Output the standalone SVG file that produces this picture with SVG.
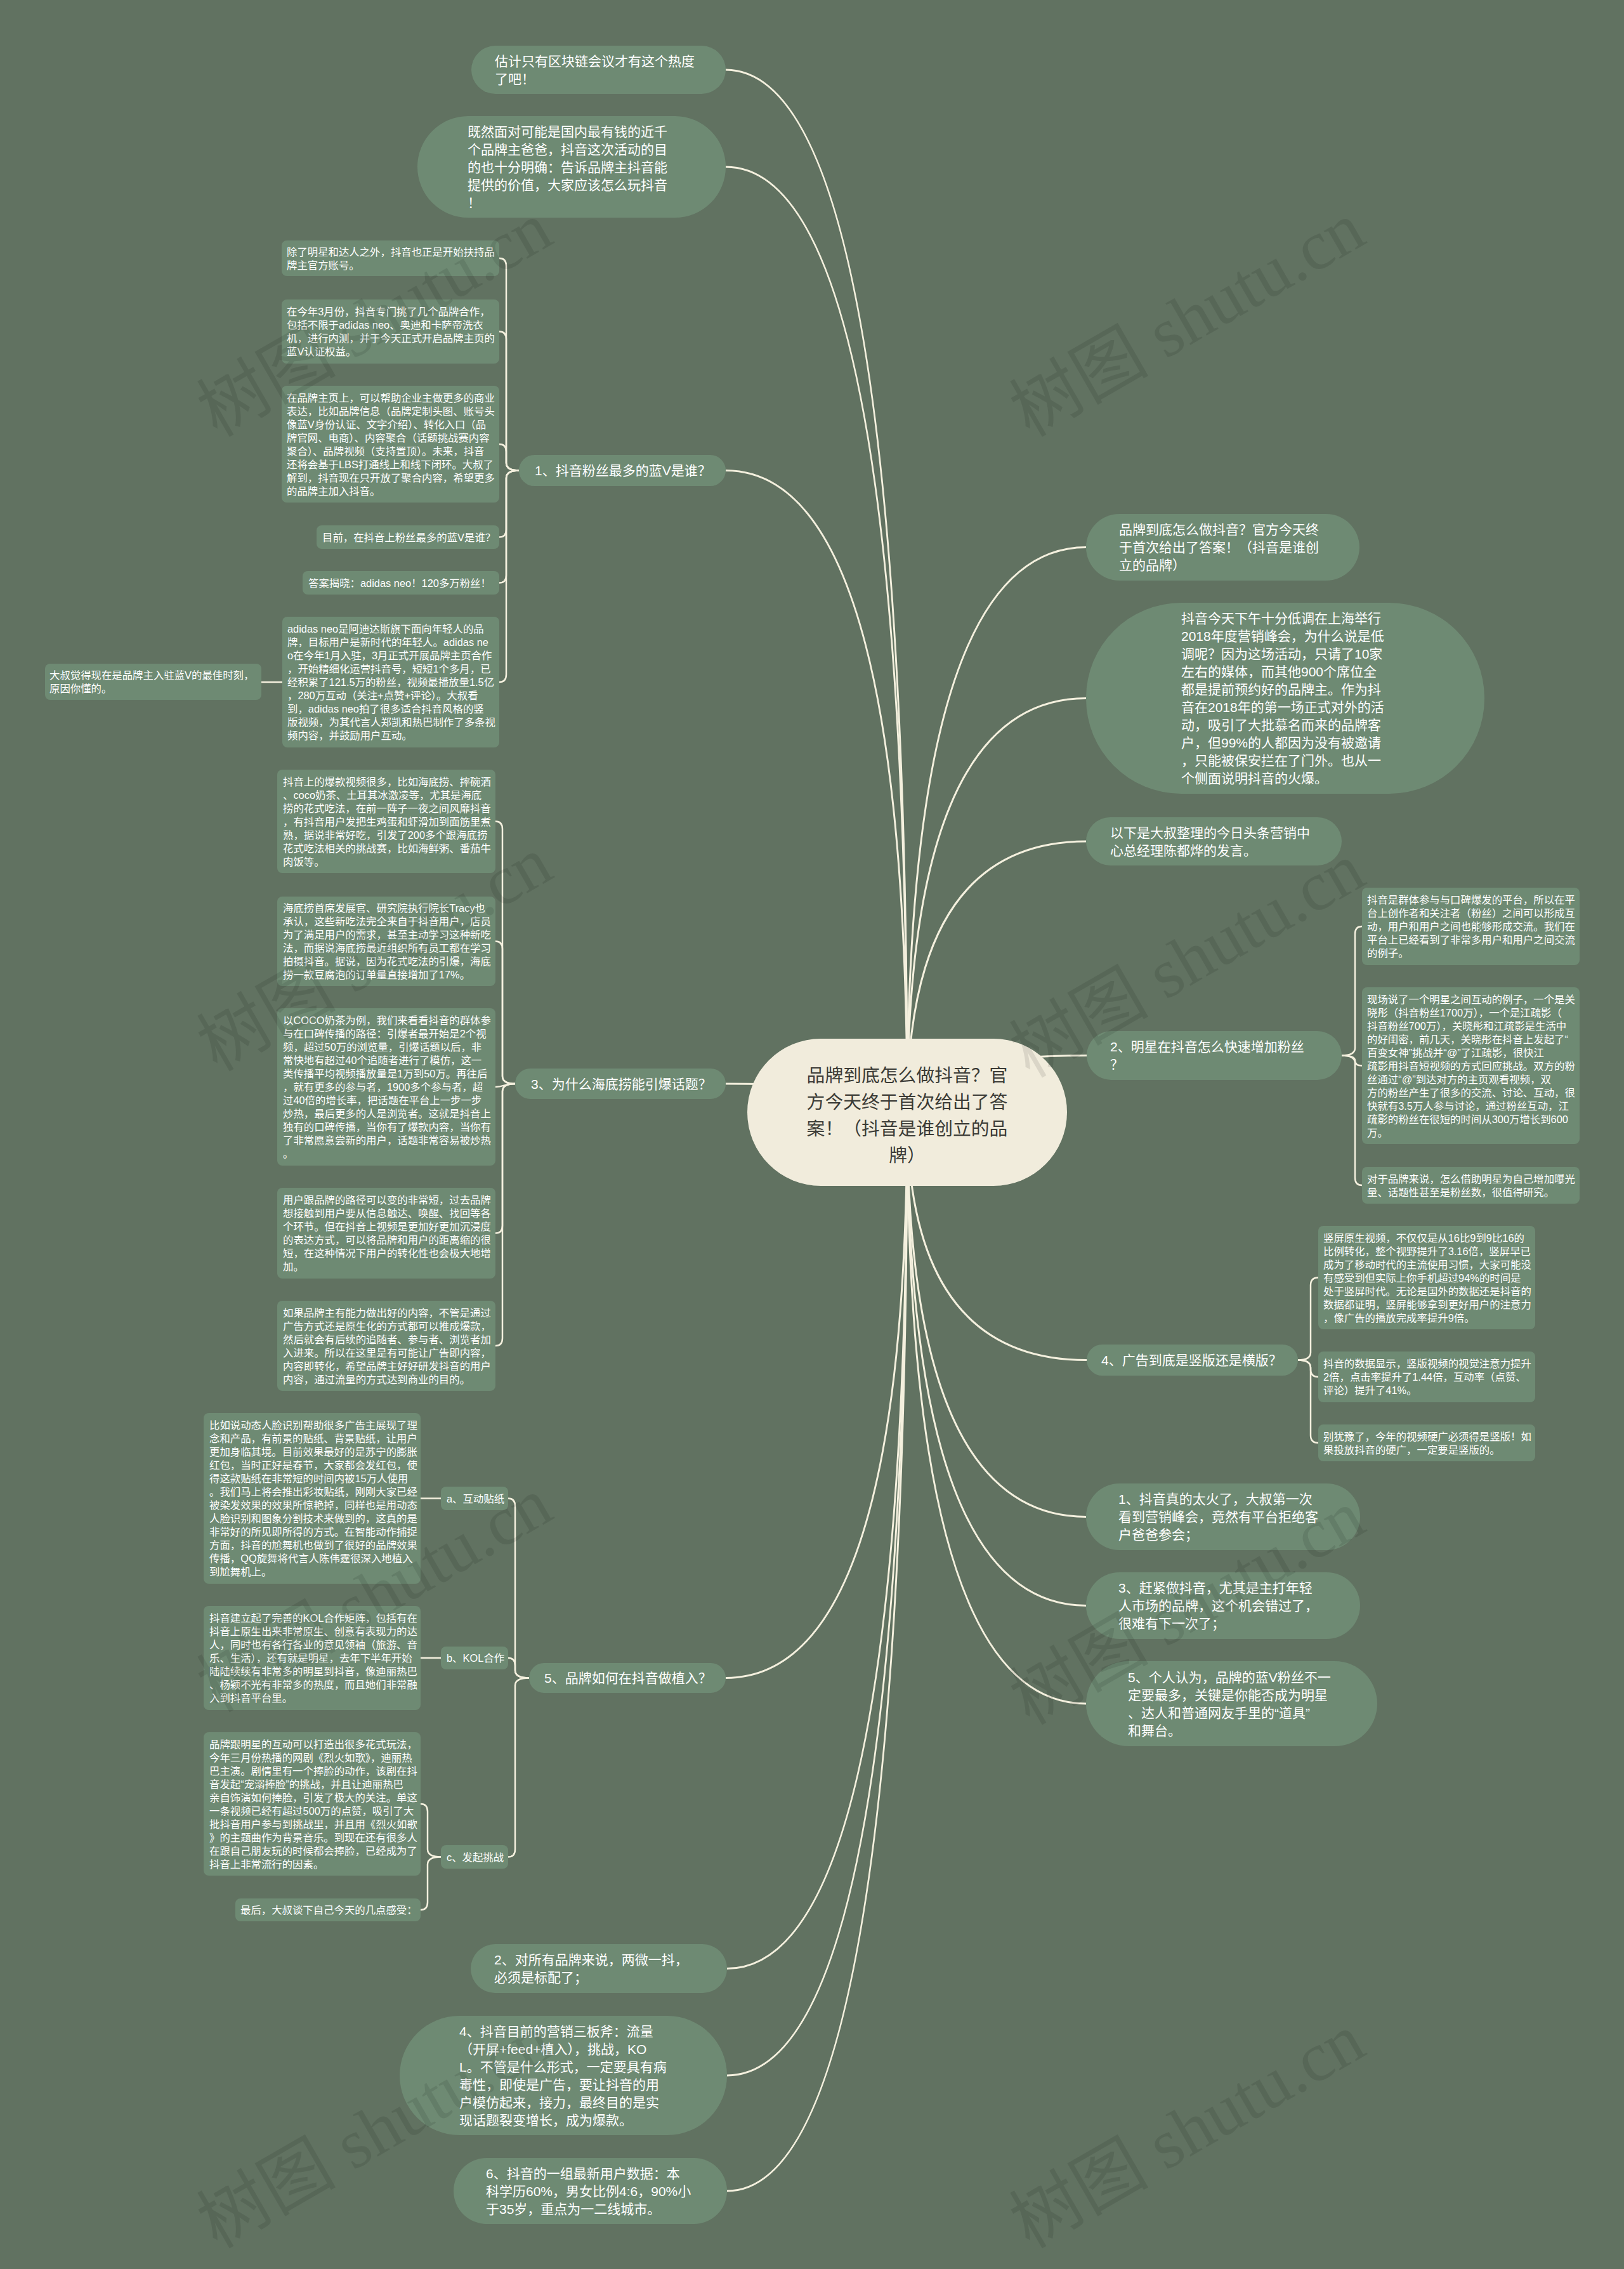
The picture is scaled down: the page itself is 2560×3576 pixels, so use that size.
<svg xmlns="http://www.w3.org/2000/svg" width="2560" height="3576" viewBox="0 0 2560 3576">
<style>
.bg{fill:#617261}
.nd rect{fill:#6e8a73}
.ctr rect{fill:#f1ecdc}
.t{font-family:"Liberation Sans","Noto Sans CJK SC",sans-serif;fill:#ffffff}
.s{font-size:16.4px}
.m{font-size:21px}
.c{font-size:28.8px;fill:#3b3b36;text-anchor:middle}
.ln{fill:none;stroke:#f4f0de;stroke-width:3}
.lb{fill:none;stroke:#f4f0de;stroke-width:2.5}
.wm{font-family:"Liberation Serif","Noto Sans CJK SC",serif;font-size:110px;fill:#000;opacity:0.09}
</style>
<rect class="bg" x="0" y="0" width="2560" height="3576"/>

<g id="connectors">
<path class="ln" d="M1430,1753 Q1430,110 1144,110"/>
<path class="ln" d="M1430,1753 Q1430,263 1144,263"/>
<path class="ln" d="M1430,1753 Q1430,741.5 1144,741.5"/>
<path class="ln" d="M1430,1753 Q1430,1708 1144,1708"/>
<path class="ln" d="M1430,1753 Q1430,2644.5 1144,2644.5"/>
<path class="ln" d="M1430,1753 Q1430,3102.5 1146,3102.5"/>
<path class="ln" d="M1430,1753 Q1430,3271 1146,3271"/>
<path class="ln" d="M1430,1753 Q1430,3453 1146,3453"/>
<path class="ln" d="M1430,1753 Q1430,862.5 1712,862.5"/>
<path class="ln" d="M1430,1753 Q1430,1100.5 1712,1100.5"/>
<path class="ln" d="M1430,1753 Q1430,1326 1712,1326"/>
<path class="ln" d="M1430,1753 Q1430,1663.5 1713,1663.5"/>
<path class="ln" d="M1430,1753 Q1430,2143.5 1713,2143.5"/>
<path class="ln" d="M1430,1753 Q1430,2390.5 1712,2390.5"/>
<path class="ln" d="M1430,1753 Q1430,2530.5 1712,2530.5"/>
<path class="ln" d="M1430,1753 Q1430,2685 1712,2685"/>

<path class="lb" d="M818,741.5 Q798,741.5 798,729.5 L798,419 Q798,407 787,407"/>
<path class="lb" d="M818,741.5 Q798,741.5 798,729.5 L798,534.5 Q798,522.5 787,522.5"/>
<path class="lb" d="M818,741.5 Q798,741.5 798,729.5 L798,712 Q798,700 787,700"/>
<path class="lb" d="M818,741.5 Q798,741.5 798,753.5 L798,834.5 Q798,846.5 787,846.5"/>
<path class="lb" d="M818,741.5 Q798,741.5 798,753.5 L798,906.5 Q798,918.5 787,918.5"/>
<path class="lb" d="M818,741.5 Q798,741.5 798,753.5 L798,1063 Q798,1075 787,1075"/>
<path class="lb" d="M445,1075 L412,1075"/>

<path class="lb" d="M812,1708 Q792,1708 792,1696 L792,1306.5 Q792,1294.5 781,1294.5"/>
<path class="lb" d="M812,1708 Q792,1708 792,1696 L792,1495.5 Q792,1483.5 781,1483.5"/>
<path class="lb" d="M812,1708 C795,1708 795,1713 781,1713"/>
<path class="lb" d="M812,1708 Q792,1708 792,1720 L792,1931.5 Q792,1943.5 781,1943.5"/>
<path class="lb" d="M812,1708 Q792,1708 792,1720 L792,2109 Q792,2121 781,2121"/>

<path class="lb" d="M834,2644.5 Q812,2644.5 812,2632.5 L812,2373.5 Q812,2361.5 801,2361.5"/>
<path class="lb" d="M834,2644.5 Q812,2644.5 812,2632.5 L812,2625 Q812,2613 801,2613"/>
<path class="lb" d="M834,2644.5 Q812,2644.5 812,2656.5 L812,2914.5 Q812,2926.5 801,2926.5"/>
<path class="lb" d="M695,2361.5 L663,2361.5"/>
<path class="lb" d="M695,2613 L663,2613"/>
<path class="lb" d="M695,2926.5 Q674,2926.5 674,2914.5 L674,2855 Q674,2843 663,2843"/>
<path class="lb" d="M695,2926.5 Q674,2926.5 674,2938.5 L674,2998 Q674,3010 663,3010"/>

<path class="lb" d="M2115,1663.5 Q2136,1663.5 2136,1651.5 L2136,1472 Q2136,1460 2147,1460"/>
<path class="lb" d="M2115,1663.5 Q2136,1663.5 2136,1671.5 Q2136,1679.5 2147,1679.5"/>
<path class="lb" d="M2115,1663.5 Q2136,1663.5 2136,1675.5 L2136,1856 Q2136,1868 2147,1868"/>

<path class="lb" d="M2046,2143.5 Q2066,2143.5 2066,2131.5 L2066,2025.5 Q2066,2013.5 2078,2013.5"/>
<path class="lb" d="M2046,2143.5 Q2066,2143.5 2066,2155.5 L2066,2158 Q2066,2170 2078,2170"/>
<path class="lb" d="M2046,2143.5 Q2066,2143.5 2066,2155.5 L2066,2262 Q2066,2274 2078,2274"/>
</g>

<g id="center" class="ctr">
<rect x="1178" y="1637" width="504" height="232" rx="116"/>
<text class="t c" x="1430" y="1705"><tspan x="1430">品牌到底怎么做抖音？官</tspan><tspan x="1430" dy="42">方今天终于首次给出了答</tspan><tspan x="1430" dy="42">案！（抖音是谁创立的品</tspan><tspan x="1430" dy="42">牌）</tspan></text>
</g>

<g id="n-top1" class="nd">
<rect x="743" y="72" width="401" height="76" rx="38"/>
<text class="t m" x="780" y="103.5"><tspan x="780">估计只有区块链会议才有这个热度</tspan><tspan x="780" dy="28">了吧！</tspan></text>
</g>
<g id="n-top2" class="nd">
<rect x="658" y="183" width="486" height="160" rx="80"/>
<text class="t m" x="737" y="214.5"><tspan x="737">既然面对可能是国内最有钱的近千</tspan><tspan x="737" dy="28">个品牌主爸爸，抖音这次活动的目</tspan><tspan x="737" dy="28">的也十分明确：告诉品牌主抖音能</tspan><tspan x="737" dy="28">提供的价值，大家应该怎么玩抖音</tspan><tspan x="737" dy="28">！</tspan></text>
</g>

<g id="n-b1" class="nd">
<rect x="818" y="717" width="326" height="49" rx="24.5"/>
<text class="t m" x="843" y="749">1、抖音粉丝最多的蓝V是谁？</text>
</g>
<g id="n-b1-1" class="nd">
<rect x="444" y="379" width="343" height="56" rx="8"/>
<text class="t s" x="452" y="402.5"><tspan x="452">除了明星和达人之外，抖音也正是开始扶持品</tspan><tspan x="452" dy="21">牌主官方账号。</tspan></text>
</g>
<g id="n-b1-2" class="nd">
<rect x="444" y="472" width="343" height="101" rx="8"/>
<text class="t s" x="452" y="497"><tspan x="452">在今年3月份，抖音专门挑了几个品牌合作，</tspan><tspan x="452" dy="21">包括不限于adidas neo、奥迪和卡萨帝洗衣</tspan><tspan x="452" dy="21">机，进行内测，并于今天正式开启品牌主页的</tspan><tspan x="452" dy="21">蓝V认证权益。</tspan></text>
</g>
<g id="n-b1-3" class="nd">
<rect x="444" y="608" width="343" height="184" rx="8"/>
<text class="t s" x="452" y="632.5"><tspan x="452">在品牌主页上，可以帮助企业主做更多的商业</tspan><tspan x="452" dy="21">表达，比如品牌信息（品牌定制头图、账号头</tspan><tspan x="452" dy="21">像蓝V身份认证、文字介绍）、转化入口（品</tspan><tspan x="452" dy="21">牌官网、电商）、内容聚合（话题挑战赛内容</tspan><tspan x="452" dy="21">聚合）、品牌视频（支持置顶）。未来，抖音</tspan><tspan x="452" dy="21">还将会基于LBS打通线上和线下闭环。大叔了</tspan><tspan x="452" dy="21">解到，抖音现在只开放了聚合内容，希望更多</tspan><tspan x="452" dy="21">的品牌主加入抖音。</tspan></text>
</g>
<g id="n-b1-4" class="nd">
<rect x="499" y="828" width="288" height="37" rx="8"/>
<text class="t s" x="508" y="852.5">目前，在抖音上粉丝最多的蓝V是谁？</text>
</g>
<g id="n-b1-5" class="nd">
<rect x="477" y="900" width="310" height="37" rx="8"/>
<text class="t s" x="486" y="924.5">答案揭晓：adidas neo！120多万粉丝！</text>
</g>
<g id="n-b1-6" class="nd">
<rect x="445" y="972" width="342" height="206" rx="8"/>
<text class="t s" x="453" y="997"><tspan x="453">adidas neo是阿迪达斯旗下面向年轻人的品</tspan><tspan x="453" dy="21">牌，目标用户是新时代的年轻人。adidas ne</tspan><tspan x="453" dy="21">o在今年1月入驻，3月正式开展品牌主页合作</tspan><tspan x="453" dy="21">，开始精细化运营抖音号，短短1个多月，已</tspan><tspan x="453" dy="21">经积累了121.5万的粉丝，视频最播放量1.5亿</tspan><tspan x="453" dy="21">，280万互动（关注+点赞+评论）。大叔看</tspan><tspan x="453" dy="21">到，adidas neo拍了很多适合抖音风格的竖</tspan><tspan x="453" dy="21">版视频，为其代言人郑凯和热巴制作了多条视</tspan><tspan x="453" dy="21">频内容，并鼓励用户互动。</tspan></text>
</g>
<g id="n-b1-6-1" class="nd">
<rect x="71" y="1046" width="341" height="57" rx="8"/>
<text class="t s" x="78" y="1070"><tspan x="78">大叔觉得现在是品牌主入驻蓝V的最佳时刻，</tspan><tspan x="78" dy="21">原因你懂的。</tspan></text>
</g>

<g id="n-b3" class="nd">
<rect x="812" y="1684" width="332" height="48" rx="24"/>
<text class="t m" x="837" y="1715.5">3、为什么海底捞能引爆话题？</text>
</g>
<g id="n-b3-1" class="nd">
<rect x="437" y="1213" width="344" height="163" rx="8"/>
<text class="t s" x="446" y="1237.5"><tspan x="446">抖音上的爆款视频很多，比如海底捞、摔碗酒</tspan><tspan x="446" dy="21">、coco奶茶、土耳其冰激凌等，尤其是海底</tspan><tspan x="446" dy="21">捞的花式吃法，在前一阵子一夜之间风靡抖音</tspan><tspan x="446" dy="21">，有抖音用户发把生鸡蛋和虾滑加到面筋里煮</tspan><tspan x="446" dy="21">熟，据说非常好吃，引发了200多个跟海底捞</tspan><tspan x="446" dy="21">花式吃法相关的挑战赛，比如海鲜粥、番茄牛</tspan><tspan x="446" dy="21">肉饭等。</tspan></text>
</g>
<g id="n-b3-2" class="nd">
<rect x="437" y="1413" width="344" height="141" rx="8"/>
<text class="t s" x="446" y="1437"><tspan x="446">海底捞首席发展官、研究院执行院长Tracy也</tspan><tspan x="446" dy="21">承认，这些新吃法完全来自于抖音用户，店员</tspan><tspan x="446" dy="21">为了满足用户的需求，甚至主动学习这种新吃</tspan><tspan x="446" dy="21">法，而据说海底捞最近组织所有员工都在学习</tspan><tspan x="446" dy="21">拍摄抖音。据说，因为花式吃法的引爆，海底</tspan><tspan x="446" dy="21">捞一款豆腐泡的订单量直接增加了17%。</tspan></text>
</g>
<g id="n-b3-3" class="nd">
<rect x="437" y="1589" width="344" height="248" rx="8"/>
<text class="t s" x="446" y="1614"><tspan x="446">以COCO奶茶为例，我们来看看抖音的群体参</tspan><tspan x="446" dy="21">与在口碑传播的路径：引爆者最开始是2个视</tspan><tspan x="446" dy="21">频，超过50万的浏览量，引爆话题以后，非</tspan><tspan x="446" dy="21">常快地有超过40个追随者进行了模仿，这一</tspan><tspan x="446" dy="21">类传播平均视频播放量是1万到50万。再往后</tspan><tspan x="446" dy="21">，就有更多的参与者，1900多个参与者，超</tspan><tspan x="446" dy="21">过40倍的增长率，把话题在平台上一步一步</tspan><tspan x="446" dy="21">炒热，最后更多的人是浏览者。这就是抖音上</tspan><tspan x="446" dy="21">独有的口碑传播，当你有了爆款内容，当你有</tspan><tspan x="446" dy="21">了非常愿意尝新的用户，话题非常容易被炒热</tspan><tspan x="446" dy="21">。</tspan></text>
</g>
<g id="n-b3-4" class="nd">
<rect x="437" y="1872" width="344" height="143" rx="8"/>
<text class="t s" x="446" y="1897"><tspan x="446">用户跟品牌的路径可以变的非常短，过去品牌</tspan><tspan x="446" dy="21">想接触到用户要从信息触达、唤醒、找回等各</tspan><tspan x="446" dy="21">个环节。但在抖音上视频是更加好更加沉浸度</tspan><tspan x="446" dy="21">的表达方式，可以将品牌和用户的距离缩的很</tspan><tspan x="446" dy="21">短，在这种情况下用户的转化性也会极大地增</tspan><tspan x="446" dy="21">加。</tspan></text>
</g>
<g id="n-b3-5" class="nd">
<rect x="437" y="2050" width="344" height="142" rx="8"/>
<text class="t s" x="446" y="2074.5"><tspan x="446">如果品牌主有能力做出好的内容，不管是通过</tspan><tspan x="446" dy="21">广告方式还是原生化的方式都可以推成爆款，</tspan><tspan x="446" dy="21">然后就会有后续的追随者、参与者、浏览者加</tspan><tspan x="446" dy="21">入进来。所以在这里是有可能让广告即内容，</tspan><tspan x="446" dy="21">内容即转化，希望品牌主好好研发抖音的用户</tspan><tspan x="446" dy="21">内容，通过流量的方式达到商业的目的。</tspan></text>
</g>

<g id="n-b5" class="nd">
<rect x="834" y="2621" width="310" height="47" rx="23.5"/>
<text class="t m" x="858" y="2652">5、品牌如何在抖音做植入？</text>
</g>
<g id="n-b5-a" class="nd">
<rect x="695" y="2343" width="106" height="37" rx="8"/>
<text class="t s" x="704" y="2367.5">a、互动贴纸</text>
</g>
<g id="n-b5-a-1" class="nd">
<rect x="321" y="2227" width="342" height="269" rx="8"/>
<text class="t s" x="330" y="2252"><tspan x="330">比如说动态人脸识别帮助很多广告主展现了理</tspan><tspan x="330" dy="21">念和产品，有前景的贴纸、背景贴纸，让用户</tspan><tspan x="330" dy="21">更加身临其境。目前效果最好的是苏宁的膨胀</tspan><tspan x="330" dy="21">红包，当时正好是春节，大家都会发红包，使</tspan><tspan x="330" dy="21">得这款贴纸在非常短的时间内被15万人使用</tspan><tspan x="330" dy="21">。我们马上将会推出彩妆贴纸，刚刚大家已经</tspan><tspan x="330" dy="21">被染发效果的效果所惊艳掉，同样也是用动态</tspan><tspan x="330" dy="21">人脸识别和图象分割技术来做到的，这真的是</tspan><tspan x="330" dy="21">非常好的所见即所得的方式。在智能动作捕捉</tspan><tspan x="330" dy="21">方面，抖音的尬舞机也做到了很好的品牌效果</tspan><tspan x="330" dy="21">传播，QQ旋舞将代言人陈伟霆很深入地植入</tspan><tspan x="330" dy="21">到尬舞机上。</tspan></text>
</g>
<g id="n-b5-b" class="nd">
<rect x="695" y="2595" width="106" height="36" rx="8"/>
<text class="t s" x="704" y="2619">b、KOL合作</text>
</g>
<g id="n-b5-b-1" class="nd">
<rect x="321" y="2531" width="342" height="164" rx="8"/>
<text class="t s" x="330" y="2556"><tspan x="330">抖音建立起了完善的KOL合作矩阵，包括有在</tspan><tspan x="330" dy="21">抖音上原生出来非常原生、创意有表现力的达</tspan><tspan x="330" dy="21">人，同时也有各行各业的意见领袖（旅游、音</tspan><tspan x="330" dy="21">乐、生活），还有就是明星，去年下半年开始</tspan><tspan x="330" dy="21">陆陆续续有非常多的明星到抖音，像迪丽热巴</tspan><tspan x="330" dy="21">、杨颖不光有非常多的热度，而且她们非常融</tspan><tspan x="330" dy="21">入到抖音平台里。</tspan></text>
</g>
<g id="n-b5-c" class="nd">
<rect x="695" y="2908" width="106" height="37" rx="8"/>
<text class="t s" x="704" y="2932.5">c、发起挑战</text>
</g>
<g id="n-b5-c-1" class="nd">
<rect x="321" y="2730" width="342" height="226" rx="8"/>
<text class="t s" x="330" y="2754.5"><tspan x="330">品牌跟明星的互动可以打造出很多花式玩法，</tspan><tspan x="330" dy="21">今年三月份热播的网剧《烈火如歌》，迪丽热</tspan><tspan x="330" dy="21">巴主演。剧情里有一个捧脸的动作，该剧在抖</tspan><tspan x="330" dy="21">音发起“宠溺捧脸”的挑战，并且让迪丽热巴</tspan><tspan x="330" dy="21">亲自饰演如何捧脸，引发了极大的关注。单这</tspan><tspan x="330" dy="21">一条视频已经有超过500万的点赞，吸引了大</tspan><tspan x="330" dy="21">批抖音用户参与到挑战里，并且用《烈火如歌</tspan><tspan x="330" dy="21">》的主题曲作为背景音乐。到现在还有很多人</tspan><tspan x="330" dy="21">在跟自己朋友玩的时候都会捧脸，已经成为了</tspan><tspan x="330" dy="21">抖音上非常流行的因素。</tspan></text>
</g>
<g id="n-b5-c-2" class="nd">
<rect x="371" y="2992" width="292" height="36" rx="8"/>
<text class="t s" x="379" y="3016">最后，大叔谈下自己今天的几点感受：</text>
</g>

<g id="n-bot2" class="nd">
<rect x="742" y="3064" width="404" height="77" rx="38.5"/>
<text class="t m" x="779" y="3096"><tspan x="779">2、对所有品牌来说，两微一抖，</tspan><tspan x="779" dy="28">必须是标配了；</tspan></text>
</g>
<g id="n-bot4" class="nd">
<rect x="630" y="3177" width="516" height="188" rx="94"/>
<text class="t m" x="724" y="3208.5"><tspan x="724">4、抖音目前的营销三板斧：流量</tspan><tspan x="724" dy="28">（开屏+feed+植入），挑战，KO</tspan><tspan x="724" dy="28">L。不管是什么形式，一定要具有病</tspan><tspan x="724" dy="28">毒性，即使是广告，要让抖音的用</tspan><tspan x="724" dy="28">户模仿起来，接力，最终目的是实</tspan><tspan x="724" dy="28">现话题裂变增长，成为爆款。</tspan></text>
</g>
<g id="n-bot6" class="nd">
<rect x="715" y="3401" width="431" height="104" rx="52"/>
<text class="t m" x="766" y="3432.5"><tspan x="766">6、抖音的一组最新用户数据：本</tspan><tspan x="766" dy="28">科学历60%，男女比例4:6，90%小</tspan><tspan x="766" dy="28">于35岁，重点为一二线城市。</tspan></text>
</g>

<g id="n-r1" class="nd">
<rect x="1712" y="810" width="431" height="105" rx="52.5"/>
<text class="t m" x="1764" y="842"><tspan x="1764">品牌到底怎么做抖音？官方今天终</tspan><tspan x="1764" dy="28">于首次给出了答案！（抖音是谁创</tspan><tspan x="1764" dy="28">立的品牌）</tspan></text>
</g>
<g id="n-r2" class="nd">
<rect x="1712" y="950" width="628" height="301" rx="150"/>
<text class="t m" x="1862" y="982"><tspan x="1862">抖音今天下午十分低调在上海举行</tspan><tspan x="1862" dy="28">2018年度营销峰会，为什么说是低</tspan><tspan x="1862" dy="28">调呢？因为这场活动，只请了10家</tspan><tspan x="1862" dy="28">左右的媒体，而其他900个席位全</tspan><tspan x="1862" dy="28">都是提前预约好的品牌主。作为抖</tspan><tspan x="1862" dy="28">音在2018年的第一场正式对外的活</tspan><tspan x="1862" dy="28">动，吸引了大批慕名而来的品牌客</tspan><tspan x="1862" dy="28">户，但99%的人都因为没有被邀请</tspan><tspan x="1862" dy="28">，只能被保安拦在了门外。也从一</tspan><tspan x="1862" dy="28">个侧面说明抖音的火爆。</tspan></text>
</g>
<g id="n-r3" class="nd">
<rect x="1712" y="1288" width="403" height="76" rx="38"/>
<text class="t m" x="1750" y="1319.5"><tspan x="1750">以下是大叔整理的今日头条营销中</tspan><tspan x="1750" dy="28">心总经理陈都烨的发言。</tspan></text>
</g>
<g id="n-r4" class="nd">
<rect x="1713" y="1625" width="402" height="77" rx="38.5"/>
<text class="t m" x="1750" y="1657"><tspan x="1750">2、明星在抖音怎么快速增加粉丝</tspan><tspan x="1750" dy="28">？</tspan></text>
</g>
<g id="n-r4-1" class="nd">
<rect x="2147" y="1399" width="343" height="122" rx="8"/>
<text class="t s" x="2155" y="1424"><tspan x="2155">抖音是群体参与与口碑爆发的平台，所以在平</tspan><tspan x="2155" dy="21">台上创作者和关注者（粉丝）之间可以形成互</tspan><tspan x="2155" dy="21">动，用户和用户之间也能够形成交流。我们在</tspan><tspan x="2155" dy="21">平台上已经看到了非常多用户和用户之间交流</tspan><tspan x="2155" dy="21">的例子。</tspan></text>
</g>
<g id="n-r4-2" class="nd">
<rect x="2147" y="1556" width="343" height="247" rx="8"/>
<text class="t s" x="2155" y="1580.5"><tspan x="2155">现场说了一个明星之间互动的例子，一个是关</tspan><tspan x="2155" dy="21">晓彤（抖音粉丝1700万），一个是江疏影（</tspan><tspan x="2155" dy="21">抖音粉丝700万），关晓彤和江疏影是生活中</tspan><tspan x="2155" dy="21">的好闺密，前几天，关晓彤在抖音上发起了“</tspan><tspan x="2155" dy="21">百变女神”挑战并“@”了江疏影，很快江</tspan><tspan x="2155" dy="21">疏影用抖音短视频的方式回应挑战。双方的粉</tspan><tspan x="2155" dy="21">丝通过“@”到达对方的主页观看视频，双</tspan><tspan x="2155" dy="21">方的粉丝产生了很多的交流、讨论、互动，很</tspan><tspan x="2155" dy="21">快就有3.5万人参与讨论，通过粉丝互动，江</tspan><tspan x="2155" dy="21">疏影的粉丝在很短的时间从300万增长到600</tspan><tspan x="2155" dy="21">万。</tspan></text>
</g>
<g id="n-r4-3" class="nd">
<rect x="2147" y="1839" width="343" height="58" rx="8"/>
<text class="t s" x="2155" y="1863.5"><tspan x="2155">对于品牌来说，怎么借助明星为自己增加曝光</tspan><tspan x="2155" dy="21">量、话题性甚至是粉丝数，很值得研究。</tspan></text>
</g>
<g id="n-r5" class="nd">
<rect x="1713" y="2119" width="333" height="49" rx="24.5"/>
<text class="t m" x="1736" y="2151">4、广告到底是竖版还是横版？</text>
</g>
<g id="n-r5-1" class="nd">
<rect x="2078" y="1932" width="342" height="163" rx="8"/>
<text class="t s" x="2086" y="1956.5"><tspan x="2086">竖屏原生视频，不仅仅是从16比9到9比16的</tspan><tspan x="2086" dy="21">比例转化，整个视野提升了3.16倍，竖屏早已</tspan><tspan x="2086" dy="21">成为了移动时代的主流使用习惯，大家可能没</tspan><tspan x="2086" dy="21">有感受到但实际上你手机超过94%的时间是</tspan><tspan x="2086" dy="21">处于竖屏时代。无论是国外的数据还是抖音的</tspan><tspan x="2086" dy="21">数据都证明，竖屏能够拿到更好用户的注意力</tspan><tspan x="2086" dy="21">，像广告的播放完成率提升9倍。</tspan></text>
</g>
<g id="n-r5-2" class="nd">
<rect x="2078" y="2130" width="342" height="80" rx="8"/>
<text class="t s" x="2086" y="2155"><tspan x="2086">抖音的数据显示，竖版视频的视觉注意力提升</tspan><tspan x="2086" dy="21">2倍，点击率提升了1.44倍，互动率（点赞、</tspan><tspan x="2086" dy="21">评论）提升了41%。</tspan></text>
</g>
<g id="n-r5-3" class="nd">
<rect x="2078" y="2245" width="342" height="58" rx="8"/>
<text class="t s" x="2086" y="2269.5"><tspan x="2086">别犹豫了，今年的视频硬广必须得是竖版！如</tspan><tspan x="2086" dy="21">果投放抖音的硬广，一定要是竖版的。</tspan></text>
</g>
<g id="n-r6" class="nd">
<rect x="1712" y="2338" width="432" height="105" rx="52.5"/>
<text class="t m" x="1763" y="2370"><tspan x="1763">1、抖音真的太火了，大叔第一次</tspan><tspan x="1763" dy="28">看到营销峰会，竟然有平台拒绝客</tspan><tspan x="1763" dy="28">户爸爸参会；</tspan></text>
</g>
<g id="n-r7" class="nd">
<rect x="1712" y="2478" width="432" height="105" rx="52.5"/>
<text class="t m" x="1763" y="2510"><tspan x="1763">3、赶紧做抖音，尤其是主打年轻</tspan><tspan x="1763" dy="28">人市场的品牌，这个机会错过了，</tspan><tspan x="1763" dy="28">很难有下一次了；</tspan></text>
</g>
<g id="n-r8" class="nd">
<rect x="1712" y="2618" width="459" height="134" rx="67"/>
<text class="t m" x="1778" y="2650.5"><tspan x="1778">5、个人认为，品牌的蓝V粉丝不一</tspan><tspan x="1778" dy="28">定要最多，关键是你能否成为明星</tspan><tspan x="1778" dy="28">、达人和普通网友手里的“道具”</tspan><tspan x="1778" dy="28">和舞台。</tspan></text>
</g>

<g id="watermarks">
<text class="wm" transform="translate(342,690) rotate(-30)">树图 shutu.cn</text>
<text class="wm" transform="translate(1623,690) rotate(-30)">树图 shutu.cn</text>
<text class="wm" transform="translate(342,1690) rotate(-30)">树图 shutu.cn</text>
<text class="wm" transform="translate(1623,1700) rotate(-30)">树图 shutu.cn</text>
<text class="wm" transform="translate(342,2700) rotate(-30)">树图 shutu.cn</text>
<text class="wm" transform="translate(1623,2720) rotate(-30)">树图 shutu.cn</text>
<text class="wm" transform="translate(342,3545) rotate(-30)">树图 shutu.cn</text>
<text class="wm" transform="translate(1623,3545) rotate(-30)">树图 shutu.cn</text>
</g>
</svg>
